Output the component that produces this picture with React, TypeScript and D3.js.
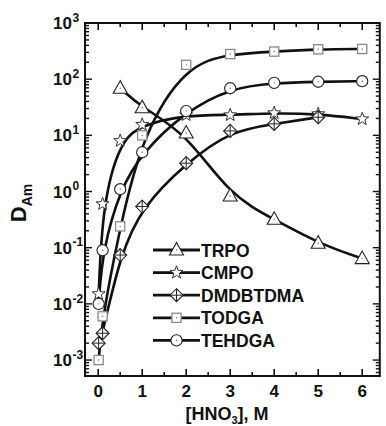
import React from "react";
import * as d3 from "d3";

// ---- data ----
const acidTRPO = [0.5, 1, 2, 3, 4, 5, 6];
const dTRPO = [69, 31, 11, 0.83, 0.32, 0.12, 0.064];

const acidCMPO = [0.01, 0.1, 0.5, 1, 2, 3, 4, 5, 6];
const dCMPO = [0.015, 0.6, 8, 15.5, 23, 23, 25, 24, 19.5];

const acidDMDBTDMA = [0.01, 0.1, 0.5, 1, 2, 3, 4, 5];
const dDMDBTDMA = [0.002, 0.003, 0.074, 0.54, 3.2, 12, 16, 21];

const acidTODGA = [0.01, 0.1, 0.5, 1, 2, 3, 4, 5, 6];
const dTODGA = [0.001, 0.006, 0.24, 10, 180, 280, 310, 340, 345];

const acidTEHDGA = [0.01, 0.1, 0.5, 1, 2, 3, 4, 5, 6];
const dTEHDGA = [0.01, 0.09, 1.1, 5, 27, 69, 86, 90, 92];

const seriesNames = ["TRPO", "CMPO", "DMDBTDMA", "TODGA", "TEHDGA"];
const seriesMarkers = ["triangle", "star", "diamond", "square", "circle"];

const xTicks = [0, 1, 2, 3, 4, 5, 6];
const xMinorTicks = [0.5, 1.5, 2.5, 3.5, 4.5, 5.5];
const yDecades = [-3, -2, -1, 0, 1, 2, 3];

const W = 386;
const H = 426;
const FONT = "'Liberation Sans', Arial, sans-serif";

const x = d3.scaleLinear().domain([-0.3, 6.4]).range([85, 379.8]);
const y = d3.scaleLog().domain([5.2e-4, 1000]).range([376, 23]);

function starPath(cx: number, cy: number, R: number, r: number) {
  const pts: string[] = [];
  for (let i = 0; i < 10; i++) {
    const a = -Math.PI / 2 + (i * Math.PI) / 5;
    const rr = i % 2 === 0 ? R : r;
    pts.push(`${cx + rr * Math.cos(a)},${cy + rr * Math.sin(a)}`);
  }
  return "M" + pts.join("L") + "Z";
}

function Marker({ type, cx, cy }: { type: string; cx: number; cy: number }) {
  const dot = <circle cx={cx} cy={cy} r={0.7} fill="#666" />;
  if (type === "triangle") {
    return (
      <g>
        <polygon
          points={`${cx},${cy - 7.5} ${cx - 7},${cy + 5} ${cx + 7},${cy + 5}`}
          fill="#fff"
          stroke="#222"
          strokeWidth={1.1}
        />
        {dot}
      </g>
    );
  }
  if (type === "square") {
    return (
      <g>
        <rect x={cx - 4.6} y={cy - 4.6} width={9.2} height={9.2} fill="#fff" stroke="#8a8a8a" strokeWidth={1.3} />
        {dot}
      </g>
    );
  }
  if (type === "circle") {
    return (
      <g>
        <circle cx={cx} cy={cy} r={5.6} fill="#fff" stroke="#222" strokeWidth={1.1} />
        {dot}
      </g>
    );
  }
  if (type === "diamond") {
    const s = 6.5;
    return (
      <g>
        <polygon
          points={`${cx},${cy - s} ${cx + s},${cy} ${cx},${cy + s} ${cx - s},${cy}`}
          fill="#fff"
          stroke="#222"
          strokeWidth={1.1}
        />
        <line x1={cx - s} y1={cy} x2={cx + s} y2={cy} stroke="#222" strokeWidth={1} />
        <line x1={cx} y1={cy - s} x2={cx} y2={cy + s} stroke="#222" strokeWidth={1} />
      </g>
    );
  }
  // star
  return <path d={starPath(cx, cy, 6.8, 2.8)} fill="#fff" stroke="#333" strokeWidth={1} />;
}

export default function App() {
  const series = [
    { xs: acidTRPO, ys: dTRPO },
    { xs: acidCMPO, ys: dCMPO },
    { xs: acidDMDBTDMA, ys: dDMDBTDMA },
    { xs: acidTODGA, ys: dTODGA },
    { xs: acidTEHDGA, ys: dTEHDGA },
  ].map((s, i) => ({
    name: seriesNames[i],
    marker: seriesMarkers[i],
    pts: s.xs.map((v, j) => [v, s.ys[j]] as [number, number]),
  }));

  const line = d3
    .line<[number, number]>()
    .x((d) => x(d[0]))
    .y((d) => y(d[1]))
    .curve(d3.curveBasis);

  const [x0, x1] = x.range();
  const [yb, yt] = y.range();

  const majorY = yDecades.map((e) => Math.pow(10, e));
  const minorY: number[] = [];
  for (let e = -4; e <= 2; e++) {
    for (let m = 2; m <= 9; m++) {
      const v = m * Math.pow(10, e);
      if (v >= y.domain()[0] && v <= y.domain()[1]) minorY.push(v);
    }
  }

  const legendX0 = 153;
  const legendX1 = 200;
  const legendY0 = 250;
  const legendDy = 22.6;

  return (
    <svg
      width={W}
      height={H}
      style={{ position: "absolute", left: 0, top: 0, background: "#fff" }}
      fontFamily={FONT}
      fontWeight="bold"
    >
      <rect x={0} y={0} width={W} height={H} fill="#fff" />
      {/* curves */}
      <g fill="none" stroke="#111" strokeWidth={2.6}>
        {series.map((s) => (
          <path key={s.name} d={line(s.pts) || ""} />
        ))}
      </g>
      {/* markers */}
      {series.map((s) => (
        <g key={s.name + "m"}>
          {s.pts.map((p, j) => (
            <Marker key={j} type={s.marker} cx={x(p[0])} cy={y(p[1])} />
          ))}
        </g>
      ))}

      {/* frame */}
      <rect x={x0} y={yt} width={x1 - x0} height={yb - yt} fill="none" stroke="#111" strokeWidth={2} />

      {/* x ticks */}
      <g stroke="#111" strokeWidth={1.6}>
        {xTicks.map((t) => (
          <g key={t}>
            <line x1={x(t)} x2={x(t)} y1={yb} y2={yb - 7} />
            <line x1={x(t)} x2={x(t)} y1={yt} y2={yt + 7} />
          </g>
        ))}
        {xMinorTicks.map((t) => (
          <g key={t}>
            <line x1={x(t)} x2={x(t)} y1={yb} y2={yb - 4} />
            <line x1={x(t)} x2={x(t)} y1={yt} y2={yt + 4} />
          </g>
        ))}
      </g>
      {/* y ticks */}
      <g stroke="#111" strokeWidth={1.4}>
        {majorY.map((v) => (
          <g key={v}>
            <line x1={x0} x2={x0 + 7} y1={y(v)} y2={y(v)} />
            <line x1={x1} x2={x1 - 7} y1={y(v)} y2={y(v)} />
          </g>
        ))}
        {minorY.map((v) => (
          <g key={v}>
            <line x1={x0} x2={x0 + 4} y1={y(v)} y2={y(v)} />
            <line x1={x1} x2={x1 - 4} y1={y(v)} y2={y(v)} />
          </g>
        ))}
      </g>

      {/* x tick labels */}
      {xTicks.map((t) => (
        <text key={t} x={x(t)} y={397} textAnchor="middle" fontSize={17} fill="#111">
          {t}
        </text>
      ))}
      {/* y tick labels */}
      {yDecades.map((e) => {
        const yy = y(Math.pow(10, e));
        return (
          <g key={e} fill="#111">
            <text x={72} y={yy + 6} textAnchor="end" fontSize={17}>
              10
            </text>
            <text x={72.5} y={yy - 1.3} fontSize={12}>
              {e}
            </text>
          </g>
        );
      })}

      {/* axis titles */}
      <text x={227} y={420} textAnchor="middle" fontSize={18} fill="#111">
        [HNO<tspan fontSize={11} dy={4}>3</tspan>
        <tspan dy={-4}>], M</tspan>
      </text>
      <text transform="translate(25.5,203) rotate(-90)" textAnchor="middle" fontSize={22} fill="#111">
        D<tspan fontSize={14} dy={6}>Am</tspan>
      </text>

      {/* legend */}
      {series.map((s, i) => {
        const ly = legendY0 + i * legendDy;
        return (
          <g key={s.name + "l"}>
            <line x1={legendX0} x2={legendX1} y1={ly} y2={ly} stroke="#111" strokeWidth={2.8} />
            <Marker type={s.marker} cx={(legendX0 + legendX1) / 2} cy={ly} />
            <text x={legendX1 + 1} y={ly + 6.5} fontSize={17.5} fill="#111">
              {s.name}
            </text>
          </g>
        );
      })}
    </svg>
  );
}
